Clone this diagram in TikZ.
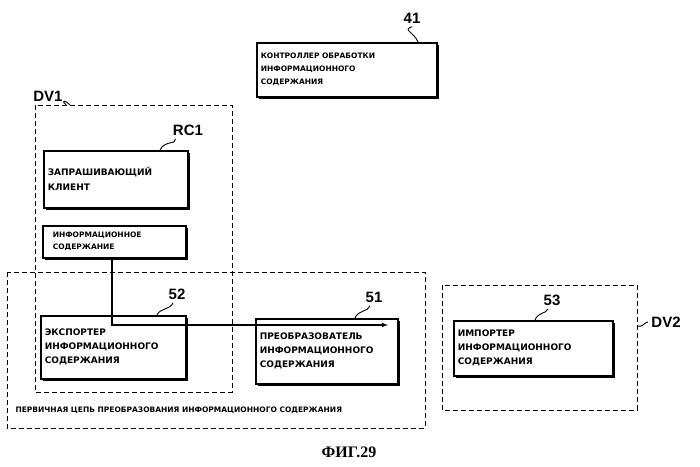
\documentclass[tikz,border=0pt]{standalone}
\usepackage{fontspec}
\setmainfont{DejaVu Sans}
\newfontfamily\tagfont{Liberation Sans}
\newfontfamily\figfont{Liberation Serif}
\usetikzlibrary{positioning, shadows}
\tikzset{
  blockbox/.style={draw, line width=1.5pt, fill=white, anchor=north west, align=left, inner sep=4pt,
    font=\bfseries\fontsize{9}{14}\selectfont,
    drop shadow={shadow xshift=2pt, shadow yshift=-2pt, fill=black, opacity=1}},
  zone/.style={draw, line width=0.9pt, dash pattern=on 5pt off 3pt},
  tag/.style={font=\tagfont\bfseries\fontsize{15}{15}\selectfont},
  lead/.style={line width=0.9pt}
}
\begin{document}
\begin{tikzpicture}[x=1pt, y=-1pt]
\useasboundingbox (0,0) rectangle (700,466);
% controller
\node (ctrl) [blockbox, minimum width=180pt, minimum height=54pt, text width=172pt,
  font=\bfseries\fontsize{7.5}{13}\selectfont] at (256,42)
  {КОНТРОЛЛЕР ОБРАБОТКИ\\ИНФОРМАЦИОННОГО\\СОДЕРЖАНИЯ};
\node (t41) [tag] at (412,18) {41};
\draw[lead] (418,42) .. controls (414,32) and (402,30) .. (t41.south);
% device 1
\draw[zone] (35,105) rectangle (232,392);
\node (dv1) [tag] at (48,96) {DV1};
\draw[lead] (dv1.south east) .. controls (60,100) and (66,100) .. (70,105);
\node (client) [blockbox, minimum width=142pt, minimum height=57pt, text width=136pt,
  font=\bfseries\fontsize{9}{15}\selectfont] at (43,150)
  {ЗАПРАШИВАЮЩИЙ\\КЛИЕНТ};
\node (rc1) [tag] at (188,130) {RC1};
\draw[lead] (rc1.south west) ++(6,0) .. controls (176,145) and (165,140) .. (160,150);
\node (content) [blockbox, minimum width=141pt, minimum height=32pt, text width=135pt,
  font=\bfseries\fontsize{7.5}{12}\selectfont] at (42,225)
  {\hspace*{6pt}ИНФОРМАЦИОННОЕ\\\hspace*{6pt}СОДЕРЖАНИЕ};
% primary chain
\draw[zone] (7,272) rectangle (425,428);
\node (chain) [font=\bfseries\fontsize{7.5}{9}\selectfont, anchor=west] at (12,410)
  {ПЕРВИЧНАЯ ЦЕПЬ ПРЕОБРАЗОВАНИЯ ИНФОРМАЦИОННОГО СОДЕРЖАНИЯ};
\node (exporter) [blockbox, minimum width=143pt, minimum height=63pt, text width=137pt] at (40,315)
  {ЭКСПОРТЕР\\ИНФОРМАЦИОННОГО\\СОДЕРЖАНИЯ};
\node (t52) [tag] at (177,294) {52};
\draw[lead] (t52.south) ++(-4,0) .. controls (170,310) and (160,308) .. (157,315);
\node (converter) [blockbox, minimum width=140pt, minimum height=65pt, text width=134pt] at (255,318)
  {ПРЕОБРАЗОВАТЕЛЬ\\ИНФОРМАЦИОННОГО\\СОДЕРЖАНИЯ};
\node (t51) [tag] at (374,297) {51};
\draw[lead] (t51.south) ++(-4,0) .. controls (368,312) and (358,310) .. (355,318);
% device 2
\draw[zone] (442,285) rectangle (637,410);
\node (dv2) [tag] at (666,322) {DV2};
\draw[lead] (dv2.west) .. controls (645,322) and (642,328) .. (637,326);
\node (importer) [blockbox, minimum width=157pt, minimum height=55pt, text width=151pt] at (453,320)
  {ИМПОРТЕР\\ИНФОРМАЦИОННОГО\\СОДЕРЖАНИЯ};
\node (t53) [tag] at (552,300) {53};
\draw[lead] (t53.south) ++(-4,0) .. controls (546,314) and (538,312) .. (535,320);
% flow
\coordinate (bend) at (112,325);
\draw[line width=1.1pt, -latex] (content.south -| bend) -- (bend) -- (388,325);
\node (fig) [font=\figfont\bfseries\fontsize{16}{16}\selectfont] at (349,452) {ФИГ.29};
\end{tikzpicture}
\end{document}
